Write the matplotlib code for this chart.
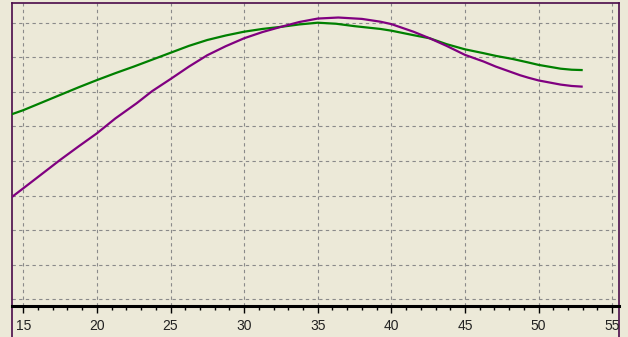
import matplotlib
matplotlib.use("Agg")
import matplotlib.pyplot as plt
from matplotlib.ticker import MultipleLocator

# ---- data ----
green_x = [14.2, 15, 16.25, 17.5, 18.75, 20, 21.25, 22.5, 23.75, 25, 26.25, 27.5, 28.75,
           30, 31.25, 32.5, 33.75, 35, 36.25, 37.5, 39.25, 40, 41.5, 42.6, 43.75, 45,
           46.25, 47.1, 48.25, 49.3, 50, 51.5, 52.25, 53]
green_y = [5.35, 5.47, 5.69, 5.91, 6.13, 6.34, 6.54, 6.73, 6.93, 7.13, 7.33, 7.50, 7.63,
           7.74, 7.82, 7.88, 7.95, 8.00, 7.97, 7.90, 7.82, 7.77, 7.64, 7.55, 7.38, 7.23,
           7.12, 7.04, 6.95, 6.85, 6.78, 6.67, 6.64, 6.63]

purple_x = [14.2, 15, 16.25, 17.5, 18.75, 20, 21.25, 22.7, 23.75, 25, 26.25, 27.5, 28.75,
            30, 31.25, 32.5, 33.75, 35, 36.4, 38, 39.25, 40, 41.5, 42.6, 43.75, 45,
            46.25, 47.1, 48.75, 49.3, 50, 51.5, 52.25, 53]
purple_y = [2.95, 3.21, 3.62, 4.03, 4.42, 4.80, 5.23, 5.67, 6.02, 6.37, 6.73, 7.06, 7.32,
            7.55, 7.73, 7.88, 8.02, 8.12, 8.15, 8.11, 8.03, 7.96, 7.74, 7.55, 7.33, 7.07,
            6.88, 6.73, 6.48, 6.41, 6.33, 6.21, 6.17, 6.15]

x_ticks = [15, 20, 25, 30, 35, 40, 45, 50, 55]
x_tick_labels = ["15", "20", "25", "30", "35", "40", "45", "50", "55"]

BG = "#ECE9D8"
FRAME = "#4a0a4a"

plt.rcParams['font.family'] = ['Liberation Sans', 'DejaVu Sans']

fig = plt.figure(figsize=(6.28, 3.37), dpi=100, facecolor=BG)

L = 11.5 / 628
W = 607 / 628
B = 31 / 337
H = 303 / 337

ax = fig.add_axes([L, B, W, H])
ax.set_facecolor(BG)

ax.plot(green_x, green_y, color="#008000", lw=1.6, solid_capstyle="butt",
        solid_joinstyle="round", zorder=3)
ax.plot(purple_x, purple_y, color="#800080", lw=1.6, solid_capstyle="butt",
        solid_joinstyle="round", zorder=3)

ax.set_xlim(14.20, 55.43)
ax.set_ylim(-0.194, 8.57)

ax.set_xticks(x_ticks)
ax.set_xticklabels(x_tick_labels, fontsize=10, color="#222222")
ax.xaxis.set_minor_locator(MultipleLocator(1))
ax.tick_params(axis="x", which="major", direction="out", length=5, width=1, color="black", pad=4)
ax.tick_params(axis="x", which="minor", direction="out", length=3, width=1, color="black")
ax.set_yticks(range(0, 9))
ax.tick_params(axis="y", which="both", left=False, labelleft=False)

ax.grid(True, which="major", color="#8a8a8a", linestyle=(0, (3, 3)), linewidth=0.8)

for side in ("left", "right", "top"):
    ax.spines[side].set_color(FRAME)
    ax.spines[side].set_linewidth(1.2)
ax.spines["bottom"].set_color("black")
ax.spines["bottom"].set_linewidth(2.2)

# lower frame portion (left/right borders continue below the axis line)
ax2 = fig.add_axes([L, 0, W, B])
ax2.set_facecolor(BG)
ax2.patch.set_alpha(0)
ax2.set_xticks([])
ax2.set_yticks([])
ax2.spines["top"].set_visible(False)
ax2.spines["bottom"].set_visible(False)
for side in ("left", "right"):
    ax2.spines[side].set_color(FRAME)
    ax2.spines[side].set_linewidth(1.2)
ax.set_zorder(2)

fig.savefig("out.png", dpi=100, facecolor=BG)
